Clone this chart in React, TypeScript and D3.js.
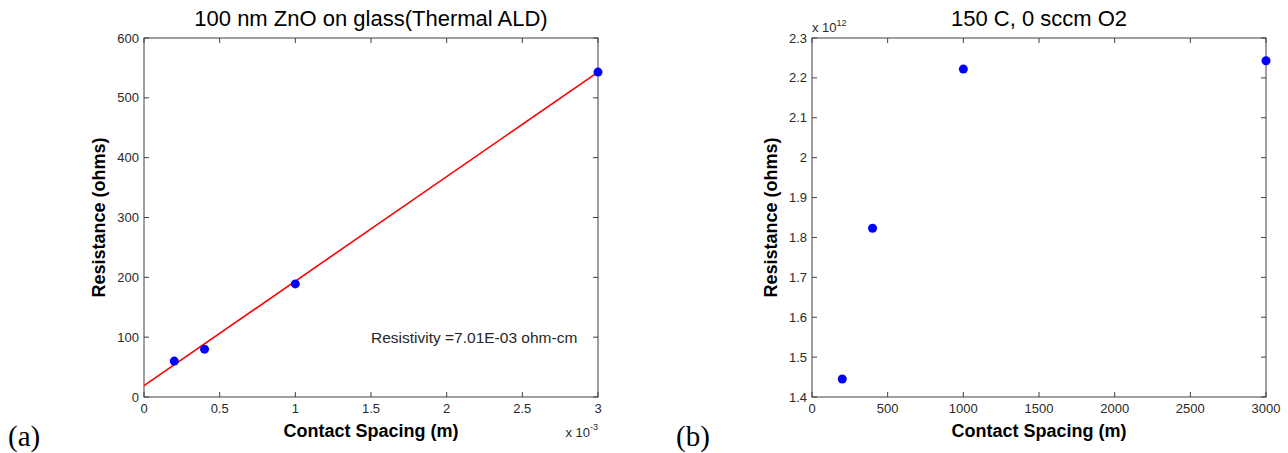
import React from "react"
import * as d3 from "d3"

// panel (a): contact spacing in units of 1e-3 m, resistance in ohms
const spacingA = [0.2, 0.4, 1, 3]
const resistanceA = [60, 80, 189, 543]
const fitSpacingA = [0, 3]
const fitResistanceA = [19, 543]
const xTicksA = [0, 0.5, 1, 1.5, 2, 2.5, 3]
const yTicksA = [0, 100, 200, 300, 400, 500, 600]

// panel (b): contact spacing in m, resistance in units of 1e12 ohms
const spacingB = [200, 400, 1000, 3000]
const resistanceB = [1.445, 1.823, 2.222, 2.243]
const xTicksB = [0, 500, 1000, 1500, 2000, 2500, 3000]
const yTicksB = [1.4, 1.5, 1.6, 1.7, 1.8, 1.9, 2, 2.1, 2.2, 2.3]

const SANS = "'Liberation Sans', Arial, Helvetica, sans-serif"
const AXIS = "#404040"
const TICKTXT = "#2a2a2a"

type PanelProps = {
  left: number
  right: number
  top: number
  bottom: number
  xDomain: [number, number]
  yDomain: [number, number]
  xTicks: number[]
  yTicks: number[]
  xs: number[]
  ys: number[]
  fitX?: number[]
  fitY?: number[]
  title: string
  ylabelX: number
  children?: (x: d3.ScaleLinear<number, number>, y: d3.ScaleLinear<number, number>) => React.ReactNode
}

function Panel(p: PanelProps) {
  const x = d3.scaleLinear().domain(p.xDomain).range([p.left, p.right])
  const y = d3.scaleLinear().domain(p.yDomain).range([p.bottom, p.top])
  const tl = 5
  const line = d3.line<number>().x((d) => x(d)).y((_, i) => y(p.fitY![i]))
  const midY = (p.top + p.bottom) / 2
  return (
    <g>
      <rect x={p.left} y={p.top} width={p.right - p.left} height={p.bottom - p.top}
        fill="none" stroke={AXIS} strokeWidth={1} />
      {p.xTicks.map((t) => (
        <g key={"x" + t}>
          <line x1={x(t)} x2={x(t)} y1={p.bottom} y2={p.bottom - tl} stroke={AXIS} />
          <line x1={x(t)} x2={x(t)} y1={p.top} y2={p.top + tl} stroke={AXIS} />
          <text x={x(t)} y={p.bottom + 16} textAnchor="middle" fontSize={13}
            fontFamily={SANS} fill={TICKTXT}>{String(t)}</text>
        </g>
      ))}
      {p.yTicks.map((t) => (
        <g key={"y" + t}>
          <line x1={p.left} x2={p.left + tl} y1={y(t)} y2={y(t)} stroke={AXIS} />
          <line x1={p.right} x2={p.right - tl} y1={y(t)} y2={y(t)} stroke={AXIS} />
          <text x={p.left - 5} y={y(t) + 4.5} textAnchor="end" fontSize={13}
            fontFamily={SANS} fill={TICKTXT}>{String(+t.toFixed(1))}</text>
        </g>
      ))}
      {p.fitX && (
        <path d={line(p.fitX) || ""} fill="none" stroke="#ff0000" strokeWidth={1.6} />
      )}
      {p.xs.map((v, i) => (
        <circle key={i} cx={x(v)} cy={y(p.ys[i])} r={4.5} fill="#0000ff" />
      ))}
      <text x={(p.left + p.right) / 2} y={26} textAnchor="middle" fontSize={22}
        fontFamily={SANS} fill="#000">{p.title}</text>
      <text x={(p.left + p.right) / 2} y={437} textAnchor="middle" fontSize={18}
        fontWeight="bold" fontFamily={SANS} fill="#000">Contact Spacing (m)</text>
      <text transform={`translate(${p.ylabelX},${midY}) rotate(-90)`} textAnchor="middle"
        fontSize={18} fontWeight="bold" fontFamily={SANS} fill="#000">Resistance (ohms)</text>
      {p.children && p.children(x, y)}
    </g>
  )
}

export default function App() {
  return (
    <svg width={1288} height={453} style={{ position: "absolute", left: 0, top: 0, background: "#fff" }}>
      <rect width={1288} height={453} fill="#fff" />
      <Panel left={144} right={598} top={38} bottom={397}
        xDomain={[0, 3]} yDomain={[0, 600]} xTicks={xTicksA} yTicks={yTicksA}
        xs={spacingA} ys={resistanceA} fitX={fitSpacingA} fitY={fitResistanceA}
        title="100 nm ZnO on glass(Thermal ALD)" ylabelX={105}>
        {(x, y) => (
          <g fontFamily={SANS}>
            <text x={x(1.5)} y={y(90)} fontSize={15.5} fill="#262626">Resistivity =7.01E-03 ohm-cm</text>
            <text x={598} y={437} textAnchor="end" fontSize={13} fill={TICKTXT}>
              x 10<tspan dy={-7} fontSize={9}>-3</tspan>
            </text>
          </g>
        )}
      </Panel>
      <Panel left={812} right={1266} top={38} bottom={397}
        xDomain={[0, 3000]} yDomain={[1.4, 2.3]} xTicks={xTicksB} yTicks={yTicksB}
        xs={spacingB} ys={resistanceB}
        title="150 C, 0 sccm O2" ylabelX={777}>
        {() => (
          <text x={812} y={32} fontSize={13} fontFamily={SANS} fill={TICKTXT}>
            x 10<tspan dy={-6} fontSize={9}>12</tspan>
          </text>
        )}
      </Panel>
      <text x={8} y={446} fontSize={29} fontFamily="'Liberation Serif', 'Times New Roman', serif" fill="#000">(a)</text>
      <text x={676} y={446} fontSize={29} fontFamily="'Liberation Serif', 'Times New Roman', serif" fill="#000">(b)</text>
    </svg>
  )
}
